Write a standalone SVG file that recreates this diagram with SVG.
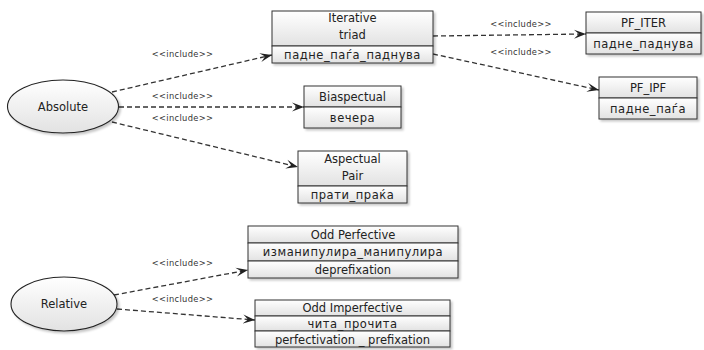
<svg xmlns="http://www.w3.org/2000/svg" width="704" height="350" viewBox="0 0 704 350">
<style>
.box{fill:url(#g);stroke:#333;stroke-width:1}
.el{fill:url(#g);stroke:#222;stroke-width:1.1}
.t{font-family:"DejaVu Sans",Verdana,sans-serif;font-size:11.5px;fill:#222;text-anchor:middle}
.cy{letter-spacing:0.55px}
.lb{font-family:"DejaVu Sans",Verdana,sans-serif;font-size:8.3px;fill:#333;text-anchor:middle;letter-spacing:0.35px}
.c{fill:none;stroke:#333;stroke-width:1.3;stroke-dasharray:5,3;marker-end:url(#arr)}
</style>
<defs>
<linearGradient id="g" x1="0" y1="0" x2="0" y2="1">
<stop offset="0" stop-color="#ffffff"/>
<stop offset="1" stop-color="#e2e2e2"/>
</linearGradient>
<filter id="sh" x="-10%" y="-10%" width="130%" height="140%">
<feDropShadow dx="2" dy="2" stdDeviation="1.2" flood-color="#000" flood-opacity="0.22"/>
</filter>
<marker id="arr" viewBox="0 0 12 10" refX="12" refY="5" markerWidth="12" markerHeight="10" markerUnits="userSpaceOnUse" orient="auto">
<path d="M0,0.5 L12,5 L0,9.5 L5,5 Z" fill="#222"/>
</marker>
</defs>

<g id="connectors">
<path class="c" d="M112,92 L272,55"/>
<path class="c" d="M119,107 L304,107"/>
<path class="c" d="M112,122 L298,167"/>
<path class="c" d="M433,36 L586,34"/>
<path class="c" d="M433,54 L599,90"/>
<path class="c" d="M114,295 L248,270"/>
<path class="c" d="M117,309 L255,320"/>
<text class="lb" x="182.5" y="57">&lt;&lt;include&gt;&gt;</text>
<text class="lb" x="182.5" y="99">&lt;&lt;include&gt;&gt;</text>
<text class="lb" x="182.5" y="121">&lt;&lt;include&gt;&gt;</text>
<text class="lb" x="521" y="27">&lt;&lt;include&gt;&gt;</text>
<text class="lb" x="521" y="55">&lt;&lt;include&gt;&gt;</text>
<text class="lb" x="182.5" y="266">&lt;&lt;include&gt;&gt;</text>
<text class="lb" x="182.5" y="302">&lt;&lt;include&gt;&gt;</text>
</g>

<g id="absolute">
<ellipse class="el" cx="63" cy="106.5" rx="55.5" ry="26.5" filter="url(#sh)"/>
<text class="t" x="63" y="110.5">Absolute</text>
</g>

<g id="relative">
<ellipse class="el" cx="64" cy="304" rx="53" ry="27" filter="url(#sh)"/>
<text class="t" x="64" y="308">Relative</text>
</g>

<g id="iterative-triad">
<g filter="url(#sh)">
<rect class="box" x="272" y="11" width="161" height="35"/>
<rect class="box" x="272" y="46" width="161" height="17"/>
</g>
<text class="t" x="352.5" y="22">Iterative</text>
<text class="t" x="352.5" y="39">triad</text>
<text class="t cy" x="352.5" y="58.5">падне_паѓа_паднува</text>
</g>

<g id="biaspectual">
<g filter="url(#sh)">
<rect class="box" x="304" y="86" width="97" height="21"/>
<rect class="box" x="304" y="107" width="97" height="21"/>
</g>
<text class="t" x="352.5" y="101">Biaspectual</text>
<text class="t cy" x="352.5" y="122">вечера</text>
</g>

<g id="aspectual-pair">
<g filter="url(#sh)">
<rect class="box" x="298" y="151" width="109" height="35"/>
<rect class="box" x="298" y="186" width="109" height="17"/>
</g>
<text class="t" x="352.5" y="163">Aspectual</text>
<text class="t" x="352.5" y="180">Pair</text>
<text class="t cy" x="352.5" y="198.5">прати_праќа</text>
</g>

<g id="pf-iter">
<g filter="url(#sh)">
<rect class="box" x="586" y="12" width="115" height="21"/>
<rect class="box" x="586" y="33" width="115" height="21"/>
</g>
<text class="t" x="643.5" y="27">PF_ITER</text>
<text class="t cy" x="643.5" y="48">падне_паднува</text>
</g>

<g id="pf-ipf">
<g filter="url(#sh)">
<rect class="box" x="599" y="77" width="98" height="21"/>
<rect class="box" x="599" y="98" width="98" height="21"/>
</g>
<text class="t" x="648" y="92">PF_IPF</text>
<text class="t cy" x="648" y="113">падне_паѓа</text>
</g>

<g id="odd-perfective">
<g filter="url(#sh)">
<rect class="box" x="248" y="226" width="210" height="17"/>
<rect class="box" x="248" y="243" width="210" height="18"/>
<rect class="box" x="248" y="261" width="210" height="17"/>
</g>
<text class="t" x="353" y="238.5">Odd Perfective</text>
<text class="t cy" x="353" y="256">изманипулира_манипулира</text>
<text class="t" x="353" y="273.5">deprefixation</text>
</g>

<g id="odd-imperfective">
<g filter="url(#sh)">
<rect class="box" x="255" y="300" width="195" height="16"/>
<rect class="box" x="255" y="316" width="195" height="15"/>
<rect class="box" x="255" y="331" width="195" height="16"/>
</g>
<text class="t" x="352.5" y="312">Odd Imperfective</text>
<text class="t cy" x="352.5" y="327.5">чита_прочита</text>
<text class="t" x="352.5" y="343.5">perfectivation _ prefixation</text>
</g>
</svg>
